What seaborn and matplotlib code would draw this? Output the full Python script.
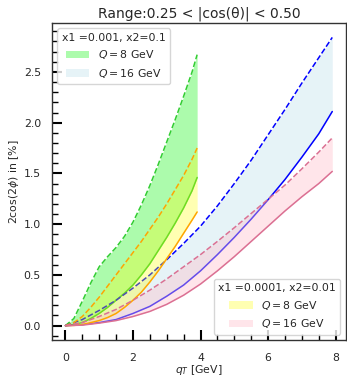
import numpy as np
import pandas as pd
import matplotlib
matplotlib.use("Agg")
import matplotlib.pyplot as plt
import seaborn as sns
from matplotlib.ticker import MultipleLocator

# transverse momentum grids [GeV]
qt_q8 = [0.0, 0.25, 0.5, 0.75, 1.0, 1.25, 1.5, 1.75, 2.0, 2.25, 2.5, 2.75,
         3.0, 3.25, 3.5, 3.75, 3.9]
qt_q16 = [0.0, 0.5, 1.0, 1.5, 2.0, 2.5, 3.0, 3.5, 4.0, 4.5, 5.0, 5.5, 6.0,
          6.5, 7.0, 7.5, 7.9]

# x1 = 0.001, x2 = 0.1
a_q8_upper = [0.0, 0.07, 0.24, 0.42, 0.58, 0.68, 0.77, 0.88, 1.02, 1.19, 1.38,
              1.59, 1.81, 2.03, 2.26, 2.50, 2.67]
a_q8_lower = [0.0, 0.01, 0.03, 0.07, 0.12, 0.18, 0.25, 0.32, 0.40, 0.50, 0.61,
              0.74, 0.87, 1.01, 1.16, 1.33, 1.46]
a_q16_upper = [0.0, 0.06, 0.15, 0.25, 0.37, 0.50, 0.65, 0.81, 0.98, 1.18, 1.40,
               1.63, 1.88, 2.13, 2.39, 2.64, 2.84]
a_q16_lower = [0.0, 0.01, 0.03, 0.06, 0.12, 0.19, 0.29, 0.40, 0.54, 0.70, 0.87,
               1.05, 1.24, 1.44, 1.66, 1.89, 2.11]

# x1 = 0.0001, x2 = 0.01
b_q8_upper = [0.0, 0.03, 0.09, 0.18, 0.28, 0.39, 0.50, 0.61, 0.72, 0.83, 0.95,
              1.07, 1.20, 1.34, 1.48, 1.64, 1.75]
b_q8_lower = [0.0, 0.002, 0.01, 0.03, 0.05, 0.08, 0.12, 0.18, 0.25, 0.33, 0.43,
              0.54, 0.66, 0.78, 0.91, 1.04, 1.12]
b_q16_upper = [0.0, 0.03, 0.09, 0.16, 0.25, 0.35, 0.46, 0.58, 0.70, 0.83, 0.965,
               1.105, 1.245, 1.385, 1.545, 1.71, 1.85]
b_q16_lower = [0.0, 0.005, 0.025, 0.05, 0.09, 0.14, 0.21, 0.30, 0.41, 0.54, 0.68,
               0.83, 0.98, 1.13, 1.27, 1.40, 1.52]

sns.set_theme(style="ticks")
plt.rcParams["font.family"] = ["DejaVu Sans"]
plt.rcParams["mathtext.fontset"] = "dejavusans"

fig = plt.figure(figsize=(3.47, 3.77), dpi=100)
ax = fig.add_axes([0.150, 0.098, 0.846, 0.841])

lw = 1.1
fs = 7.8

def band(x, lo, hi, fill, alpha, line, zl):
    df = pd.DataFrame({"qt": x, "lo": lo, "hi": hi})
    h = ax.fill_between(df["qt"], df["lo"], df["hi"], color=fill, alpha=alpha,
                        linewidth=0, zorder=zl)
    sns.lineplot(data=df, x="qt", y="hi", ax=ax, color=line, lw=lw,
                 linestyle="--", zorder=zl + 0.5)
    sns.lineplot(data=df, x="qt", y="lo", ax=ax, color=line, lw=lw,
                 linestyle="-", zorder=zl + 0.5)
    return h

h_a8 = band(qt_q8, a_q8_lower, a_q8_upper, "palegreen", 0.8, "limegreen", 1)
h_a16 = band(qt_q16, a_q16_lower, a_q16_upper, "lightblue", 0.3, "blue", 1)
h_b8 = band(qt_q8, b_q8_lower, b_q8_upper, "yellow", 0.3, "orange", 2)
h_b16 = band(qt_q16, b_q16_lower, b_q16_upper, "pink", 0.4, "palevioletred", 2)

ax.set_title("Range:0.25 < |cos(θ)| < 0.50", fontsize=10, pad=4)
ax.set_xlabel(r"$q_T$ [GeV]", fontsize=fs, labelpad=0)
ax.set_ylabel(r"2cos(2$\phi$) in [%]", fontsize=fs, labelpad=2)

ax.xaxis.set_major_locator(MultipleLocator(2))
ax.xaxis.set_minor_locator(MultipleLocator(0.5))
ax.yaxis.set_major_locator(MultipleLocator(0.5))
ax.yaxis.set_minor_locator(MultipleLocator(0.1))
ax.tick_params(which="both", direction="in", top=False, right=False, labelsize=fs,
               color="black")
ax.tick_params(which="major", length=7, width=1.5)
ax.tick_params(axis="x", which="major", pad=9.0)
ax.tick_params(axis="y", which="major", pad=8.0)
ax.tick_params(which="minor", length=4.5, width=1.0)
for s in ax.spines.values():
    s.set_visible(True)
    s.set_color("0.2")
    s.set_linewidth(1.0)

leg1 = ax.legend([h_a8, h_a16], [r"$Q = 8$ GeV", r"$Q = 16$ GeV"],
                 title="x1 =0.001, x2=0.1", loc="upper left", fontsize=fs,
                 title_fontsize=fs, handlelength=2.2)
ax.add_artist(leg1)
ax.legend([h_b8, h_b16], [r"$Q = 8$ GeV", r"$Q = 16$ GeV"],
          title="x1 =0.0001, x2=0.01", loc="lower right", fontsize=fs,
          title_fontsize=fs, handlelength=2.2)

fig.savefig("out.png", dpi=100)
